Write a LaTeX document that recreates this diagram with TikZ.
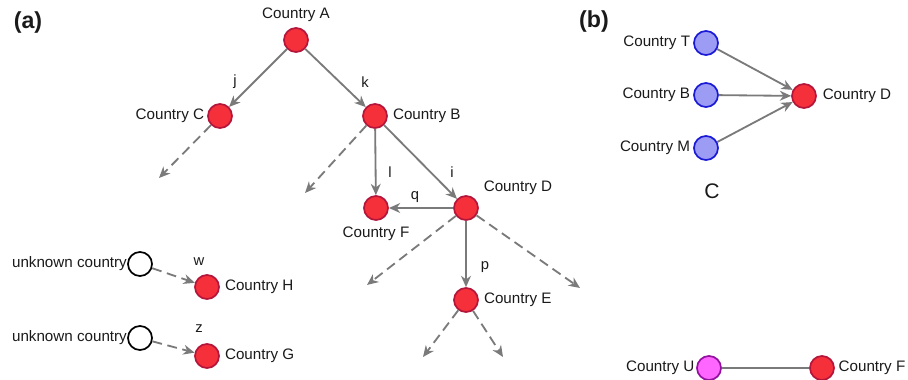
\documentclass[tikz,border=0pt]{standalone}
\usepackage{fontspec}
\setmainfont{Liberation Sans}
\usetikzlibrary{arrows.meta, positioning}
\definecolor{cred}{HTML}{F5303A}
\definecolor{cdred}{HTML}{B3163A}
\definecolor{cblue}{HTML}{9C9CF5}
\definecolor{cdblue}{HTML}{1A1AD6}
\definecolor{cpink}{HTML}{FF66FF}
\definecolor{cdpink}{HTML}{93109E}
\definecolor{cedge}{HTML}{7A7A7A}
\definecolor{ctext}{HTML}{1A1A1A}
\tikzset{
  % paesi (nodi del grafo)
  country/.style={circle, draw=cdred, fill=cred, line width=1.2pt, minimum size=0.6cm,
    inner sep=0pt},
  bcountry/.style={country, draw=cdblue, fill=cblue},
  ucountry/.style={country, draw=cdpink, fill=cpink},
  unknown/.style={country, draw=black, fill=white},
  % collegamenti
  edge/.style={line width=1.3pt, cedge, -{Stealth[length=8pt, width=7pt, inset=2.5pt]}},
  plainedge/.style={line width=1.3pt, cedge},
  dashedge/.style={edge, dash pattern=on 7pt off 4pt},
  % etichette
  lbl/.style={font=\fontsize{10.8}{12}\selectfont, text=ctext, inner sep=1pt},
  elbl/.style={font=\fontsize{10.5}{12}\selectfont, text=ctext, inner sep=1pt},
  panel/.style={font=\fontsize{16.5}{18}\selectfont\bfseries, text=ctext, inner sep=0pt},
}

\begin{document}
\begin{tikzpicture}[x=0.025cm, y=-0.025cm]
  \useasboundingbox (0,0) rectangle (908,380);
  % pannello (a)
  \node[panel] (pa) at (28,23) {(a)};
  \node[country] (ca) at (296,40) {};
  \node[country] (cc) at (220,116) {};
  \node[country] (cb) at (375,116) {};
  \node[country] (cf) at (376,208) {};
  \node[country] (cd) at (466,208) {};
  \node[country] (ce) at (466,300) {};
  \node[country] (ch) at (207,287) {};
  \node[country] (cg) at (207,356) {};
  \node[unknown] (u1) at (140,264) {};
  \node[unknown] (u2) at (140,338) {};
  % nomi dei paesi
  \node[lbl, above=3pt of ca] (tca) {Country A};
  \node[lbl, left=1pt of cc] (tcc) {Country C};
  \node[lbl, right=2.5pt of cb] (tcb) {Country B};
  \node[lbl, below=3pt of cf] (tcf) {Country F};
  \node[lbl, above right=2pt and 5pt of cd] (tcd) {Country D};
  \node[lbl, right=2.5pt of ce] (tce) {Country E};
  \node[lbl, right=2.5pt of ch] (tch) {Country H};
  \node[lbl, right=2.5pt of cg] (tcg) {Country G};
  \node[lbl, left=-1pt of u1] (tu1) {unknown country};
  \node[lbl, left=-1pt of u2] (tu2) {unknown country};
  % estremi liberi delle frecce tratteggiate
  \coordinate (ec) at (159,178);
  \coordinate (eb) at (305,193);
  \coordinate (ed1) at (367,285);
  \coordinate (ed2) at (580,288);
  \coordinate (ee1) at (423,357);
  \coordinate (ee2) at (503,357);
  % flussi noti
  \draw[edge] (ca) -- (cc);
  \draw[edge] (ca) -- (cb);
  \draw[edge] (cb) -- (cf);
  \draw[edge] (cb) -- (cd);
  \draw[edge] (cd) -- (cf);
  \draw[edge] (cd) -- (ce);
  % flussi ignoti
  \draw[dashedge] (cc) -- (ec);
  \draw[dashedge] (cb) -- (eb);
  \draw[dashedge] (cd) -- (ed1);
  \draw[dashedge] (cd) -- (ed2);
  \draw[dashedge] (ce) -- (ee1);
  \draw[dashedge] (ce) -- (ee2);
  \draw[dashedge] (u1) -- (ch);
  \draw[dashedge] (u2) -- (cg);
  % etichette degli archi
  \node[elbl] (lj) at (235,82) {j};
  \node[elbl] (lk) at (365,82) {k};
  \node[elbl] (ll) at (390,172) {l};
  \node[elbl] (li) at (452,172) {i};
  \node[elbl] (lq) at (415,197) {q};
  \node[elbl] (lp) at (485,267) {p};
  \node[elbl] (lw) at (199,262) {w};
  \node[elbl] (lz) at (199,329) {z};
  % pannello (b)
  \node[panel] (pb) at (594,22) {(b)};
  \node[bcountry] (bt) at (706,43) {};
  \node[bcountry] (bb) at (706,95) {};
  \node[bcountry] (bm) at (706,148) {};
  \node[country] (bd) at (804,96) {};
  \node[ucountry] (bu) at (709,368) {};
  \node[country] (bf) at (822,368) {};
  \node[lbl, left=1pt of bt] (tbt) {Country T};
  \node[lbl, left=1pt of bb] (tbb) {Country B};
  \node[lbl, left=1pt of bm] (tbm) {Country M};
  \node[lbl, right=3pt of bd] (tbd) {Country D};
  \node[lbl, left=0pt of bu] (tbu) {Country U};
  \node[lbl, right=1.5pt of bf] (tbf) {Country F};
  \node[font=\fontsize{15}{17}\selectfont, text=ctext] (bc) at (712,191) {C};
  \draw[edge] (bt) -- (bd);
  \draw[edge] (bb) -- (bd);
  \draw[edge] (bm) -- (bd);
  \draw[plainedge] (bu) -- (bf);
\end{tikzpicture}
\end{document}
